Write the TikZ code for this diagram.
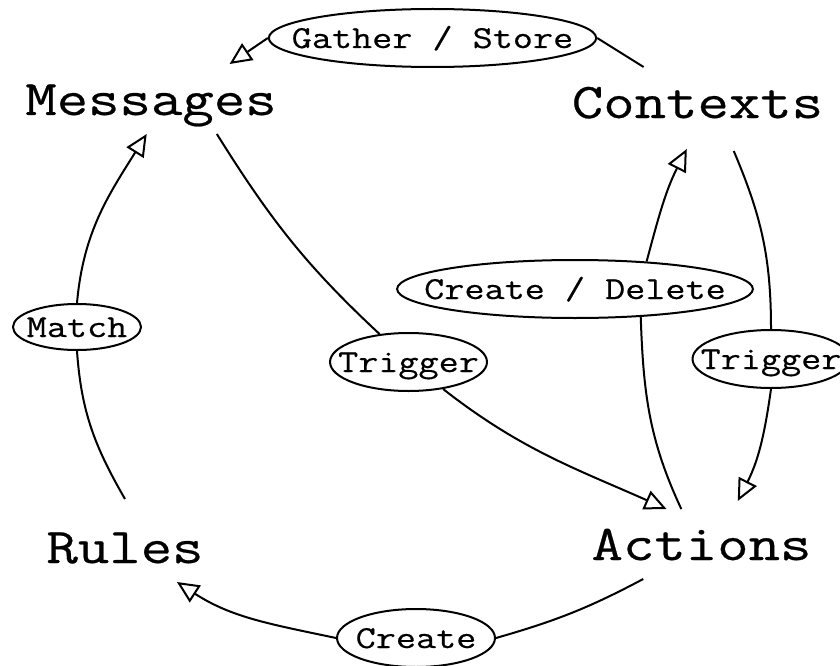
\documentclass[tikz,border=0pt]{standalone}
\usepackage{fontspec}
\setmonofont{Latin Modern Mono}[FakeStretch=1.22,FakeBold=0.5]
\usetikzlibrary{arrows.meta,shapes.geometric}

\begin{document}
\begin{tikzpicture}[x=1pt,y=-1pt,line width=2pt,>={Triangle[open,length=22pt,width=20pt]},
  state/.style={font=\fontsize{50}{56}\selectfont\ttfamily,anchor=base,inner sep=0pt,text height=50pt,text depth=18pt},
  lbl/.style={ellipse,draw,font=\fontsize{32}{38}\selectfont\ttfamily,inner xsep=-2.5em,inner ysep=-1em,text height=26pt,text depth=6pt,minimum height=58pt}]
\useasboundingbox (0,0) rectangle (840,666);
% states
\node[state] (msg) at (151,115) {Messages};
\node[state] (ctx) at (697.5,118) {Contexts};
\node[state] (rul) at (125,563) {Rules};
\node[state] (act) at (701.5,560) {Actions};
% edge labels
\node[lbl,minimum width=311pt] (gs) at (432.5,38) {Gather / Store};
\node[lbl,minimum width=157pt] (trl) at (408.5,362) {Trigger};
\node[lbl,minimum width=344pt] (cd) at (575,289) {Create / Delete};
\node[lbl,minimum width=157pt] (trr) at (771,359) {Trigger};
\node[lbl,minimum width=128pt,minimum height=46pt] (mt) at (77,327) {Match};
\node[lbl,minimum width=158pt] (cr) at (416,638) {Create};
% edges
\draw (ctx.147) -- (gs.east);
\draw[->] (gs.west) -- (msg.24);
\draw (msg.-28) to[out=-58,in=137] (trl.136);
\draw[->] (trl.-38) to[out=-38,in=156] (act.135);
\draw ([yshift=13pt]rul.north) to[out=120,in=-86] (mt.south);
\draw[->] (mt.north) to[out=85,in=238] (msg.-97);
\draw (act.-149) to[out=208,in=16] (cr.east);
\draw[->] (cr.west) to[out=168,in=-33] (rul.-34);
\draw (act.120) to[out=115,in=-88] (cd.-23);
\draw[->] (cd.21) to[out=75,in=243] ([yshift=-12pt]ctx.-107);
\draw ([yshift=-14pt]ctx.-44) to[out=-67,in=90] (trr.north);
\draw[->] (trr.south) to[out=-98,in=63] ([yshift=8pt]act.44);
\end{tikzpicture}
\end{document}
